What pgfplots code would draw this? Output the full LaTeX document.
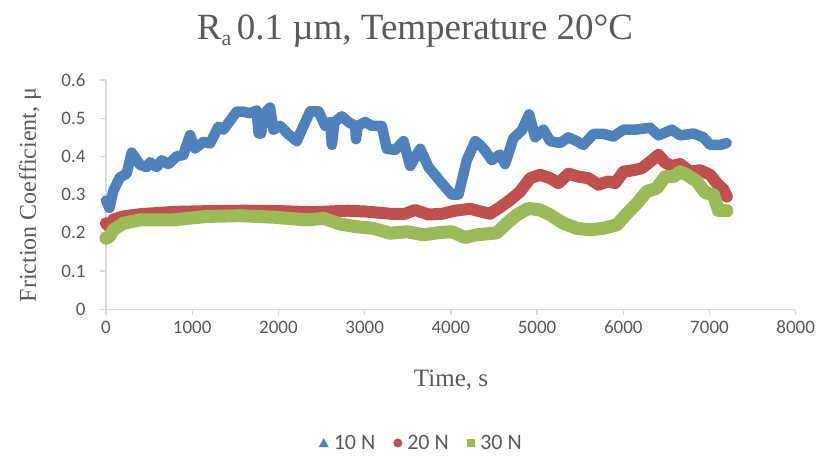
\documentclass[border=0pt]{standalone}
\usepackage{fontspec}
\setmainfont{Liberation Serif}
\newfontfamily\calibri{Carlito}
\usepackage{pgfplots}
\pgfplotsset{compat=1.18}
\definecolor{cA}{HTML}{4F81BD}
\definecolor{cB}{HTML}{C0504D}
\definecolor{cC}{HTML}{9BBB59}
\definecolor{txtgray}{HTML}{595959}
\definecolor{axgray}{HTML}{D9D9D9}
\begin{document}
\begin{tikzpicture}
\path[use as bounding box] (0,0) rectangle (832bp,463bp);
\node[text=txtgray, font=\fontsize{37bp}{42bp}\selectfont] at (415bp,432bp) {R\raisebox{-0.35ex}{\fontsize{22bp}{24bp}\selectfont a}\hspace{0.15em}0.1 µm, Temperature 20°C};
\node[text=txtgray, font=\fontsize{24bp}{28bp}\selectfont, rotate=90] at (30bp,268bp) {Friction Coefficient, μ};
\node[text=txtgray, font=\fontsize{25bp}{28bp}\selectfont] at (451bp,83bp) {Time, s};
\begin{axis}[
  at={(106bp,153.7bp)}, anchor=south west,
  scale only axis, width=689.7bp, height=229.3bp,
  xmin=0, xmax=8000, ymin=0, ymax=0.6,
  axis x line*=bottom, axis y line*=left,
  axis line style={draw=axgray, line width=1.3bp},
  tick align=outside, major tick length=6bp,
  tick style={draw=axgray, line width=1.3bp},
  xtick={0,1000,2000,3000,4000,5000,6000,7000,8000},
  xticklabels={0,1000,2000,3000,4000,5000,6000,7000,8000},
  ytick={0,0.1,0.2,0.3,0.4,0.5,0.6},
  yticklabels={0,0.1,0.2,0.3,0.4,0.5,0.6},
  ticklabel style={font=\calibri\fontsize{19bp}{21bp}\selectfont, text=txtgray},
  yticklabel style={xshift=-11bp},
  xticklabel style={yshift=-2bp},
  /pgf/number format/assume math mode=true,
  clip=false,
  legend style={at={(axis description cs:0.457,-0.583)}, anchor=center, draw=none, fill=none,
    font=\calibri\fontsize{22bp}{24bp}\selectfont, text=txtgray,
    /tikz/every odd column/.append style={column sep=3bp},
    /tikz/every even column/.append style={column sep=16bp}},
  legend columns=3,
]
\addplot[cA, line width=10.5bp, line join=round, line cap=round,
  legend image code/.code={\path[fill=cA, draw=none, line width=0pt] (0.12cm,-0.15cm) -- (0.48cm,-0.15cm) -- (0.30cm,0.17cm) -- cycle;}]
coordinates {
(0,0.285)(40,0.265)(85,0.31)(160,0.345)(240,0.355)(298,0.41)(394,0.378)(472,0.372)
(510,0.385)(588,0.372)(646,0.39)(723,0.38)(820,0.40)(897,0.404)(975,0.456)(1033,0.421)
(1130,0.438)(1207,0.434)(1304,0.478)(1362,0.47)(1516,0.517)(1594,0.517)(1671,0.513)
(1748,0.52)(1770,0.46)(1800,0.46)(1830,0.51)(1903,0.528)(1942,0.47)(2019,0.48)
(2116,0.458)(2213,0.44)(2271,0.47)(2368,0.518)(2465,0.518)(2542,0.48)(2600,0.49)
(2620,0.43)(2650,0.49)(2735,0.505)(2813,0.49)(2890,0.48)(2900,0.445)(2920,0.48)
(3006,0.49)(3083,0.48)(3199,0.48)(3257,0.42)(3354,0.417)(3451,0.44)(3528,0.375)
(3644,0.42)(3741,0.372)(3895,0.33)(4011,0.30)(4088,0.30)(4185,0.39)(4282,0.44)
(4339,0.43)(4398,0.415)(4474,0.39)(4571,0.405)(4629,0.38)(4726,0.448)(4823,0.468)
(4908,0.51)(4978,0.45)(5074,0.47)(5152,0.44)(5268,0.435)(5364,0.45)(5461,0.44)
(5538,0.43)(5654,0.459)(5770,0.459)(5886,0.452)(6002,0.47)(6137,0.47)(6311,0.475)
(6408,0.455)(6563,0.47)(6660,0.455)(6814,0.46)(6930,0.45)(7008,0.43)(7124,0.43)(7200,0.435)
};
\addlegendentry{10 N}
\addplot[cB, line width=12bp, line join=round, line cap=round,
  legend image code/.code={\path[fill=cB, draw=none, line width=0pt] (0.30cm,0cm) circle (0.16cm);}]
coordinates {
(0,0.225)(40,0.215)(85,0.235)(200,0.243)(400,0.249)(800,0.255)(1200,0.257)(1600,0.258)
(2000,0.257)(2400,0.254)(2800,0.258)(3000,0.256)(3300,0.25)(3470,0.25)(3586,0.26)
(3741,0.248)(3900,0.25)(4050,0.258)(4223,0.263)(4378,0.254)(4455,0.25)(4571,0.267)
(4687,0.286)(4803,0.308)(4920,0.343)(5036,0.352)(5152,0.343)(5248,0.33)(5364,0.355)
(5480,0.347)(5596,0.343)(5712,0.326)(5828,0.335)(5906,0.33)(6002,0.36)(6118,0.364)
(6214,0.369)(6311,0.386)(6408,0.404)(6485,0.384)(6563,0.375)(6660,0.38)(6776,0.36)
(6892,0.364)(7008,0.352)(7085,0.33)(7163,0.313)(7201,0.295)
};
\addlegendentry{20 N}
\addplot[cC, line width=13bp, line join=round, line cap=round,
  legend image code/.code={\path[fill=cC, draw=none, line width=0pt] (0.15cm,-0.15cm) rectangle (0.45cm,0.15cm);}]
coordinates {
(0,0.186)(40,0.19)(85,0.208)(200,0.225)(394,0.234)(781,0.234)(1168,0.243)(1555,0.245)
(1942,0.241)(2329,0.234)(2523,0.238)(2716,0.223)(2910,0.216)(3103,0.212)(3296,0.199)
(3490,0.203)(3683,0.195)(3877,0.201)(4011,0.203)(4165,0.188)(4300,0.195)(4398,0.197)
(4533,0.2)(4649,0.225)(4765,0.247)(4900,0.264)(5036,0.26)(5152,0.247)(5306,0.225)
(5461,0.212)(5616,0.208)(5770,0.212)(5925,0.221)(6041,0.25)(6157,0.277)(6272,0.308)
(6388,0.317)(6485,0.347)(6582,0.347)(6660,0.36)(6737,0.352)(6853,0.335)(6950,0.305)
(7046,0.30)(7105,0.258)(7201,0.258)
};
\addlegendentry{30 N}
\end{axis}
\end{tikzpicture}
\end{document}
